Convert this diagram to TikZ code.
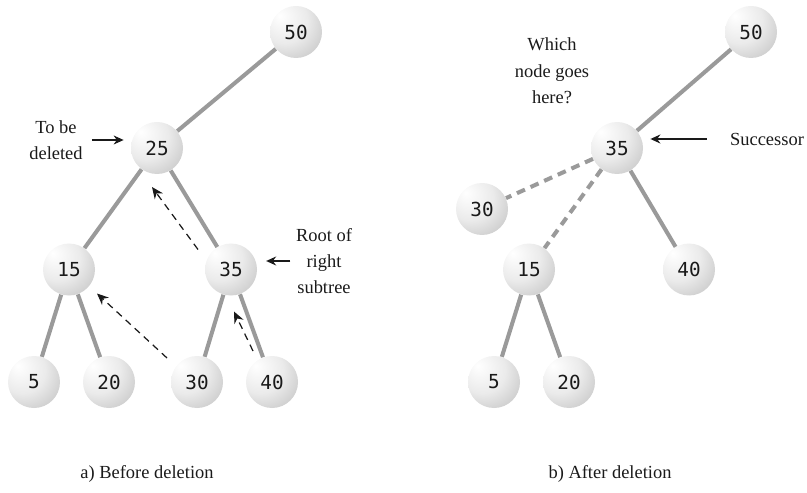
\documentclass[tikz,border=0pt]{standalone}
\usepackage{fontspec}
\setmainfont{Liberation Serif}
\newfontfamily\keyfont{DejaVu Sans Mono}
\usetikzlibrary{arrows.meta,calc}
\definecolor{edgegray}{HTML}{9A9A9A}
\definecolor{dark}{HTML}{1A1A1A}
\pgfdeclareradialshading{keyball}{\pgfpoint{-16bp}{16bp}}{color(0bp)=(white); color(22bp)=(white!92!black); color(46bp)=(white!74!black); color(72bp)=(white!45!black)}
\tikzset{
  keynode/.style={circle, minimum size=10.4mm, inner sep=0pt, shade, shading=keyball, font=\keyfont\fontsize{11}{13}\selectfont, text=dark},
  link/.style={draw=edgegray, line width=2.3pt},
  dashlink/.style={link, dash pattern=on 5pt off 3.5pt},
  note/.style={align=center, font=\fontsize{10.5}{15}\selectfont, text=dark, inner sep=1pt},
  pointer/.style={-{Stealth[length=2mm, width=1.8mm]}, line width=0.8pt, draw=dark},
  moveptr/.style={-{Stealth[length=2.3mm, width=2mm]}, line width=0.7pt, draw=dark, dash pattern=on 4pt off 3pt}
}

\begin{document}
\begin{tikzpicture}
  \useasboundingbox (0,0) rectangle (16.14,9.84);

  \node[keynode] (a50) at (5.92,9.20) {50};
  \node[keynode] (a25) at (3.14,6.88) {25};
  \node[keynode] (a15) at (1.38,4.45) {15};
  \node[keynode] (a35) at (4.62,4.45) {35};
  \node[keynode] (a5) at (0.68,2.20) {5};
  \node[keynode] (a20) at (2.18,2.20) {20};
  \node[keynode] (a30) at (3.94,2.20) {30};
  \node[keynode] (a40) at (5.44,2.20) {40};
  \draw[link] (a50) -- (a25);
  \draw[link] (a25) -- (a15);
  \draw[link] (a25) -- (a35);
  \draw[link] (a15) -- (a5);
  \draw[link] (a15) -- (a20);
  \draw[link] (a35) -- (a30);
  \draw[link] (a35) -- (a40);

  \draw[moveptr] ([shift={(-0.66,0.40)}]a35.center) -- ([shift={(-0.10,-0.78)}]a25.center);
  \draw[moveptr] ([shift={(-0.60,0.48)}]a30.center) -- ([shift={(0.56,-0.48)}]a15.center);
  \draw[moveptr] ([shift={(-0.38,0.62)}]a40.center) -- ([shift={(0.06,-0.84)}]a35.center);

  \node[note] (deleted) at (1.12,7.04) {To be\\deleted};
  \draw[pointer, shorten <=4pt, shorten >=4pt] (deleted.east) -- (deleted.east -| a25.west);
  \node[note] (subroot) at (6.48,4.62) {Root of\\right\\subtree};
  \draw[pointer, shorten <=2pt, shorten >=5pt] (subroot.west) -- (subroot.west -| a35.east);

  \node[keynode] (b50) at (15.02,9.20) {50};
  \node[keynode] (b35) at (12.34,6.88) {35};
  \node[keynode] (b30) at (9.64,5.66) {30};
  \node[keynode] (b15) at (10.58,4.45) {15};
  \node[keynode] (b40) at (13.78,4.45) {40};
  \node[keynode] (b5) at (9.88,2.20) {5};
  \node[keynode] (b20) at (11.38,2.20) {20};
  \draw[link] (b50) -- (b35);
  \draw[dashlink] (b35) -- (b30);
  \draw[dashlink] (b35) -- (b15);
  \draw[link] (b35) -- (b40);
  \draw[link] (b15) -- (b5);
  \draw[link] (b15) -- (b20);

  \node[note] (which) at (11.04,8.42) {Which\\node goes\\here?};
  \node[note, anchor=west] (succ) at (14.56,7.06) {Successor};
  \draw[pointer, shorten <=12pt, shorten >=4pt] (succ.west) -- (succ.west -| b35.east);

  \node[note] (capa) at (2.94,0.36) {a) Before deletion};
  \node[note] (capb) at (12.20,0.36) {b) After deletion};
\end{tikzpicture}
\end{document}
